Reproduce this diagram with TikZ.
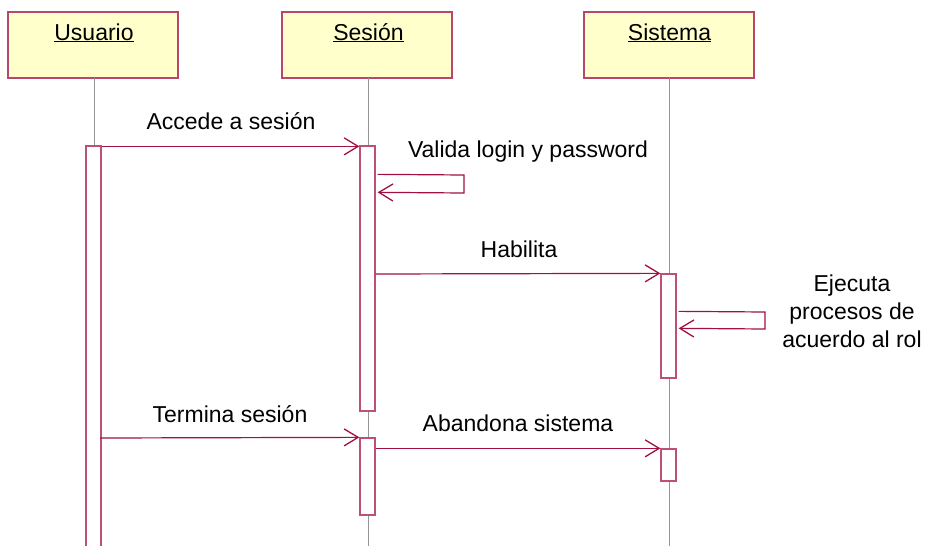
\documentclass[tikz,border=0pt]{standalone}
\usepackage{fontspec}
\setmainfont{Liberation Sans}
\usetikzlibrary{arrows.meta,calc}
\definecolor{headfill}{RGB}{255,255,204}
\definecolor{headdraw}{RGB}{185,70,110}
\definecolor{actdraw}{RGB}{190,80,120}
\definecolor{msgcol}{RGB}{160,16,64}
\definecolor{lifecol}{RGB}{150,150,150}
\tikzset{
  headbox/.style={draw=headdraw,fill=headfill,line width=1.4pt,minimum width=170pt,minimum height=66pt,inner sep=0pt},
  headtext/.style={anchor=base,inner sep=0pt,font=\fontsize{23}{27}\selectfont},
  lifeline/.style={draw=lifecol,line width=0.8pt},
  actbox/.style={draw=actdraw,fill=white,line width=1.3pt,minimum width=15pt,inner sep=0pt},
  msg/.style={draw=msgcol,line width=1.2pt,-{Straight Barb[length=14pt,width=17pt,line width=1.3pt]}},
  lbl/.style={anchor=base,inner sep=0pt,font=\fontsize{23}{28}\selectfont,align=center}
}
\begin{document}
\begin{tikzpicture}[x=1pt,y=-1pt]
\useasboundingbox (0,0) rectangle (927,546);
% headers
\node[headbox] (hu) at (93,45) {};
\node[headbox] (hs) at (367,45) {};
\node[headbox] (hy) at (669,45) {};
\node[headtext] (tu) at (94,40) {\underline{Usuario}};
\node[headtext] (ts) at (368.5,40) {\underline{Sesión}};
\node[headtext] (ty) at (669.5,40) {\underline{Sistema}};
% lifelines
\coordinate (eu) at (94,546);
\coordinate (es) at (368,546);
\coordinate (ey) at (669,546);
\draw[lifeline] (94,78) -- (eu);
\draw[lifeline] (368,78) -- (es);
\draw[lifeline] (669,78) -- (ey);
% activations
\node[actbox,minimum height=404pt] (ua) at (93.5,348) {};
\node[actbox,minimum height=265pt] (sa1) at (367.5,278.5) {};
\node[actbox,minimum height=77pt] (sa2) at (367.5,476.5) {};
\node[actbox,minimum height=104pt] (ya1) at (668.5,326) {};
\node[actbox,minimum height=32pt] (ya2) at (668.5,465) {};
% messages
\draw[msg] ($(ua.north east)+(0,1)$) -- ($(sa1.north west)+(0,1)$);
\node[lbl] (l1) at (231,129) {Accede a sesión};
\coordinate (v1) at (464,175);
\coordinate (v2) at (464,193);
\draw[msg] ($(sa1.north east)+(2,29)$) -- (v1) -- (v2) -- ($(sa1.north east)+(2,47)$);
\node[lbl] (l2) at (528,157) {Valida login y password};
\draw[msg] ($(sa1.east)+(0,-4.5)$) -- (ya1.north west);
\node[lbl] (l3) at (519,257) {Habilita};
\coordinate (w1) at (765,312);
\coordinate (w2) at (765,329);
\draw[msg] ($(ya1.north east)+(2,38)$) -- (w1) -- (w2) -- ($(ya1.north east)+(2,55)$);
\node[lbl,anchor=base] (l4) at (852,347) {Ejecuta\\procesos de\\acuerdo al rol};
\draw[msg] ($(ua.west)+(15,90)$) -- (sa2.north west);
\node[lbl] (l5) at (230,422) {Termina sesión};
\draw[msg] ($(sa2.north east)+(0,11)$) -- (ya2.north west);
\node[lbl] (l6) at (518,431) {Abandona sistema};
\end{tikzpicture}
\end{document}
